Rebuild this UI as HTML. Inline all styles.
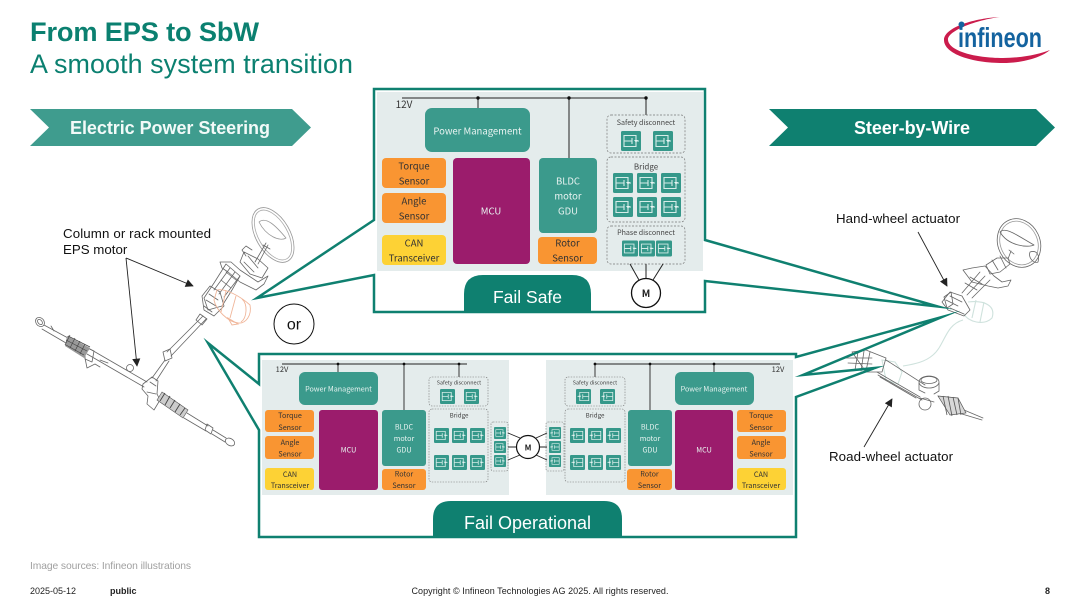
<!DOCTYPE html>
<html>
<head>
<meta charset="utf-8">
<style>
html,body{margin:0;padding:0;background:#fff;width:1080px;height:606px;overflow:hidden}
svg{display:block}
text{font-family:"Liberation Sans",sans-serif}
.n text,text.n{font-family:"Noto Sans CJK SC","Liberation Sans",sans-serif;text-anchor:middle}
.w{fill:#e8f3f1}.d{fill:#333}
.s10 text{font-size:9.500px}
.art{fill:none;stroke:#666;stroke-width:.8;stroke-linejoin:round;stroke-linecap:round}
.soft{filter:url(#b)}
</style>
</head>
<body>
<svg width="1080" height="606" viewBox="0 0 1080 606" xmlns="http://www.w3.org/2000/svg">
<defs>
<filter id="b" x="-2%" y="-2%" width="104%" height="104%"><feGaussianBlur stdDeviation="0.35"/></filter>
<symbol id="sw" viewBox="0 0 20 20">
<rect width="20" height="20" rx="1.500" fill="#36988a"/>
<path d="M3 4.500H15V15.500H3M3 10H11M11 7V13M15 10H18M3 4V16" fill="none" stroke="#d5ecE8" stroke-width="1.100"/>
<path d="M13 9h4l-2 2.500z" fill="#e6f4f2"/>
</symbol>
<marker id="ah" viewBox="0 0 10 10" refX="9" refY="5" markerWidth="10" markerHeight="9" orient="auto"><path d="M0 0L10 5L0 10z" fill="#222"/></marker>
</defs>

<!-- Title -->
<text x="30" y="41" font-size="27.200" font-weight="700" fill="#0b8070" textLength="229">From EPS to SbW</text>
<text x="30" y="73" font-size="26.900" fill="#0b8070" textLength="323">A smooth system transition</text>

<!-- Logo -->
<path d="M1000,17C976,18 944,27 944,40C944,54 972,63 1003,63C1024,63 1042,57 1050,50C1040,54 1022,58 1003,58C975,58 949,51 948,40C947,31 976,20 1000,17Z" fill="#cb1c4c"/>
<text x="958" y="47" font-size="28" font-weight="700" fill="#14639f" textLength="84" lengthAdjust="spacingAndGlyphs">infineon</text>
<circle cx="961.500" cy="24.500" r="3" fill="#14639f"/>

<!-- Banners -->
<polygon points="30,109 292,109 311,127.500 292,146 30,146 49,127.500" fill="#3f9c8e"/>
<text x="70" y="134" font-size="18" font-weight="700" fill="#f2faf8" textLength="200">Electric Power Steering</text>
<polygon points="769,109 1036,109 1055,127.500 1036,146 769,146 788,127.500" fill="#0f8070"/>
<text x="854" y="134" font-size="18" font-weight="700" fill="#fff" textLength="116">Steer-by-Wire</text>

<!-- Left EPS drawing -->
<g class="art soft">
<ellipse cx="273" cy="235" rx="17" ry="30" transform="rotate(-30 273 235)" stroke="#999"/>
<ellipse cx="273" cy="235" rx="14.500" ry="27.500" transform="rotate(-30 273 235)" stroke="#aaa"/>
<path d="M259,222C266,216 276,226 286,238C280,242 266,236 259,222Z" stroke="#999"/>
<path d="M266,243L255,262M268,245L258,264M263,245L270,249"/>
<path d="M244,252L258,259L268,268L262,278L250,274L240,262Z"/>
<path d="M248,256L258,268M244,262L254,272M252,250L246,246L242,250L246,256"/>
<path d="M220,262L231,262L240,270L258,282L268,276L264,284L256,290L240,282L228,272L222,268Z"/>
<path d="M204,298L214,283L226,264L240,276L232,290L222,306L208,310Z"/>
<path d="M214,290L230,268M219,294L235,272M224,297L240,276M226,272L236,280M221,280L231,288"/>
<path d="M202,296L210,286L220,292L224,306L214,316L204,310Z"/>
<path d="M206,300L216,306M209,294L218,300M204,306L212,312"/>
<path d="M203,316L167,352M206,319L171,356"/>
<path d="M200,314L207,319L202,325L196,320Z"/>
<path d="M163,352L170,349L172,358L165,361Z"/>
<path d="M165,360L152,378M169,361L156,381"/>
<!-- rack -->
<ellipse cx="40" cy="322" rx="4" ry="5" transform="rotate(-40 40 322)"/>
<ellipse cx="40" cy="322" rx="2" ry="3" transform="rotate(-40 40 322)"/>
<path d="M44,325L68,338M42,329L66,343M51,326L54,331"/>
<path d="M90,349L147,382M87,354L144,387"/>
<path d="M85,347L94,351L92,362L85,359Z"/>
<path d="M85,358L87,368L95,364L100,367M100,360L108,363"/>
<circle cx="130" cy="368" r="3.500"/>
<path d="M143,384L152,377L158,381L157,394L160,400L154,410L147,404L148,396L142,389Z"/>
<path d="M150,382L156,386M147,392L156,394"/>
<path d="M187,413L208,426M184,418L206,431"/>
<path d="M207,424L213,428L211,434L205,430Z"/>
<path d="M213,430L226,438M212,434L225,442"/>
<ellipse cx="230" cy="442" rx="5" ry="3.500" transform="rotate(30 230 442)"/>
</g>
<g class="soft">
<path d="M67,336L90,348L84,358L65,346Z" fill="#999"/>
<path d="M68,336L90,347M66,340L87,351M66,345L84,355M70,335L65,345M75,338L70,348M80,341L75,351M85,344L80,354" stroke="#444" stroke-width=".7" fill="none"/>
<path d="M162,392L188,410L183,418L157,400Z" fill="#ccc" stroke="#555" stroke-width=".6"/>
<path d="M165,393L160,401M170,396L165,405M175,400L170,408M180,404L175,412M185,408L180,415" stroke="#444" stroke-width=".9"/>
</g>
<g fill="none" stroke="#f0b69a" stroke-width=".9" class="soft">
<path d="M217,290C225,288 240,296 250,305C252,315 246,324 238,323C228,322 216,310 214,300Z"/>
<path d="M226,291L221,312M236,296L230,318M242,299C248,304 247,318 241,322"/>
<path d="M228,318L238,324L232,325Z"/>
</g>

<!-- Right SbW drawing -->
<g fill="none" stroke="#cfe2dd" stroke-width="1.100" class="soft">
<path d="M968,302C985,300 996,306 992,318C984,326 968,322 964,314"/>
<path d="M963,320C945,325 945,345 933,355C925,362 915,364 903,366"/>
<path d="M882,360L895,362L902,372L898,384L886,380Z"/>
<path d="M976,300L972,318M984,302L980,322"/>
</g>
<g class="art soft">
<ellipse cx="1019" cy="243" rx="21" ry="25" transform="rotate(-25 1019 243)"/>
<ellipse cx="1019" cy="243" rx="18.500" ry="22.500" transform="rotate(-25 1019 243)" stroke="#999"/>
<path d="M1000,232C1005,226 1018,236 1034,245C1028,248 1008,246 1000,232ZM1030,252C1036,250 1040,254 1038,262C1034,264 1028,258 1030,252Z"/>
<path d="M1011,251L1008,259M1009,250L1014,254"/>
<path d="M1008,258L1010,264L1000,272L990,274L986,265L997,258Z"/>
<path d="M992,260L998,270M1000,256L1006,268"/>
<path d="M963,270L972,268L985,266L994,276L1002,282L1011,280L1008,286L998,288L988,286L972,282Z"/>
<path d="M962,293L980,272M967,295L985,276M972,298L990,280M965,283L977,290M970,277L982,284"/>
<path d="M942,302L950,292L962,296L970,310L964,316L948,310Z"/>
<path d="M946,300L958,306M950,296L962,302M950,308L964,314"/>
<path d="M944,297L951,292L953,304L947,308Z"/>
<!-- rack -->
<path d="M843,358L872,358M848,363L872,364"/>
<path d="M852,352L866,350L886,358L882,372L866,372Z"/>
<path d="M858,352L855,370M864,351L861,371M870,352L866,371"/>
<path d="M886,360L925,385M877,372L920,397M880,377L916,398"/>
<path d="M878,375L922,400"/>
<ellipse cx="929" cy="382" rx="10" ry="6"/>
<ellipse cx="929" cy="380" rx="8" ry="3.500"/>
<path d="M919,383V390L925,393M939,383V391L934,394"/>
<circle cx="925" cy="404" r="6"/>
<path d="M920,398L934,402"/>
<path d="M964,410L983,418M962,414L982,420"/>
</g>
<g class="soft">
<path d="M938,396L958,398L966,413L950,415Z" fill="#d8d8d8" stroke="#555" stroke-width=".7"/>
<path d="M943,396L947,415M948,396L952,416M953,397L957,415M958,398L961,415" stroke="#555" stroke-width=".8"/>
</g>

<!-- Top panel -->
<rect x="377" y="92" width="326" height="179" fill="#e4ecec" class="soft"/>
<!-- Bottom panels -->
<rect x="262" y="360" width="247" height="135" fill="#e4ecec" class="soft"/>
<rect x="546" y="360" width="247" height="135" fill="#e4ecec" class="soft"/>

<!-- Callouts -->
<g fill="none" stroke="#0f8070" stroke-width="2.500" stroke-linejoin="miter" stroke-miterlimit="30">
<polygon points="374,89 705,89 705,240 938,306.500 705,281 705,312 374,312 374,275 257,298 374,220"/>
<polygon points="259,354 796,354 796,357 942,317 803,375 875,368 796,397 796,537 259,537 259,430 208,343 259,384"/>
</g>

<!-- Pills -->
<path d="M464,313V294Q464,275 483,275H572Q591,275 591,294V313Z" fill="#0f8070"/>
<text x="527.500" y="303" font-size="17.500" fill="#fff" text-anchor="middle">Fail Safe</text>
<path d="M433,538V519Q433,501 451,501H604Q622,501 622,519V538Z" fill="#0f8070"/>
<text x="527.500" y="529" font-size="18" fill="#fff" text-anchor="middle">Fail Operational</text>

<!-- Top diagram -->
<g class="n soft">
<path d="M402,98H647M478,98V108M569,98V158M646,98V115" stroke="#222" stroke-width="1" fill="none"/>
<circle cx="478" cy="98" r="1.700" fill="#111"/><circle cx="569" cy="98" r="1.700" fill="#111"/><circle cx="646" cy="98" r="1.700" fill="#111"/>
<text x="404" y="108" font-size="10" fill="#333">12V</text>
<rect x="425" y="108" width="105" height="44" rx="7" fill="#3b9a8c"/>
<rect x="382" y="158" width="64" height="30" rx="4" fill="#f99532"/>
<rect x="382" y="193" width="64" height="30" rx="4" fill="#f99532"/>
<rect x="382" y="235" width="64" height="30" rx="4" fill="#fdd236"/>
<rect x="453" y="158" width="77" height="106" rx="4" fill="#9b1f6c"/>
<rect x="539" y="158" width="58" height="75" rx="4" fill="#3b9a8c"/>
<rect x="538" y="237" width="59" height="27" rx="4" fill="#f99532"/>
<g fill="none" stroke="#777" stroke-width=".7" stroke-dasharray="2 1.500">
<rect x="607" y="115" width="78" height="38" rx="4"/>
<rect x="607" y="157" width="78" height="65" rx="4"/>
<rect x="607" y="226" width="78" height="38" rx="4"/>
</g>
<use href="#sw" x="621" y="131" width="20" height="20"/><use href="#sw" x="653" y="131" width="20" height="20"/>
<use href="#sw" x="613" y="173" width="20" height="20"/><use href="#sw" x="637" y="173" width="20" height="20"/><use href="#sw" x="661" y="173" width="20" height="20"/>
<use href="#sw" x="613" y="197" width="20" height="20"/><use href="#sw" x="637" y="197" width="20" height="20"/><use href="#sw" x="661" y="197" width="20" height="20"/>
<use href="#sw" x="622" y="240" width="16" height="17"/><use href="#sw" x="639" y="240" width="16" height="17"/><use href="#sw" x="656" y="240" width="16" height="17"/>
<g class="s10">
<text x="477.500" y="134.500" class="w">Power Management</text>
<text x="414" y="169.500" class="d">Torque</text><text x="414" y="184.500" class="d">Sensor</text>
<text x="414" y="204.500" class="d">Angle</text><text x="414" y="219.500" class="d">Sensor</text>
<text x="414" y="246.500" class="d">CAN</text><text x="414" y="261.500" class="d">Transceiver</text>
<text x="491" y="214.500" class="w">MCU</text>
<text x="568" y="184.500" class="w">BLDC</text><text x="568" y="199.500" class="w">motor</text><text x="568" y="214.500" class="w">GDU</text>
<text x="567.500" y="246.500" class="d">Rotor</text><text x="567.500" y="261.500" class="d">Sensor</text>
</g>
<text x="646" y="125" font-size="7.100" fill="#444">Safety disconnect</text>
<text x="646" y="169.500" font-size="8" fill="#444">Bridge</text>
<text x="646" y="235" font-size="7.100" fill="#444">Phase disconnect</text>
<path d="M630,264L639,280M646,264V278M663,264L653,280" stroke="#222" stroke-width="1"/>
</g>
<circle cx="646" cy="293" r="14.500" fill="#fff" stroke="#111" stroke-width="1.300"/>
<text x="646" y="297" class="n" font-size="10" font-weight="700" fill="#222">M</text>

<!-- Bottom-left diagram -->
<g class="n soft">
<path d="M282,364H467M338,364V372M404,364V410M459,364V377" stroke="#222" stroke-width=".9" fill="none"/>
<circle cx="338" cy="364" r="1.400" fill="#111"/><circle cx="404" cy="364" r="1.400" fill="#111"/><circle cx="459" cy="364" r="1.400" fill="#111"/>
<text x="282" y="372" font-size="7.500" fill="#333">12V</text>
<rect x="299" y="372" width="79" height="33" rx="6" fill="#3b9a8c"/>
<rect x="265" y="410" width="49" height="22" rx="3" fill="#f99532"/>
<rect x="265" y="436" width="49" height="23" rx="3" fill="#f99532"/>
<rect x="265" y="468" width="49" height="22" rx="3" fill="#fdd236"/>
<rect x="319" y="410" width="59" height="80" rx="3" fill="#9b1f6c"/>
<rect x="382" y="410" width="44" height="56" rx="3" fill="#3b9a8c"/>
<rect x="382" y="469" width="44" height="21" rx="3" fill="#f99532"/>
<g fill="none" stroke="#777" stroke-width=".6" stroke-dasharray="1.500 1.200">
<rect x="429" y="377" width="59" height="29" rx="3"/>
<rect x="429" y="409" width="59" height="73" rx="3"/>
<rect x="491" y="422" width="17" height="49" rx="2"/>
</g>
<use href="#sw" x="440" y="389" width="15" height="15"/><use href="#sw" x="464" y="389" width="15" height="15"/>
<use href="#sw" x="434" y="428" width="15" height="15"/><use href="#sw" x="452" y="428" width="15" height="15"/><use href="#sw" x="470" y="428" width="15" height="15"/>
<use href="#sw" x="434" y="455" width="15" height="15"/><use href="#sw" x="452" y="455" width="15" height="15"/><use href="#sw" x="470" y="455" width="15" height="15"/>
<use href="#sw" x="494" y="427" width="12" height="12"/><use href="#sw" x="494" y="441" width="12" height="12"/><use href="#sw" x="494" y="455" width="12" height="12"/>
<g font-size="7.200">
<text x="338.500" y="391.500" class="w">Power Management</text>
<text x="290" y="418" class="d">Torque</text><text x="290" y="430" class="d">Sensor</text>
<text x="290" y="445" class="d">Angle</text><text x="290" y="456.500" class="d">Sensor</text>
<text x="290" y="477" class="d">CAN</text><text x="290" y="488" class="d">Transceiver</text>
<text x="348.500" y="452.500" class="w">MCU</text>
<text x="404" y="429.500" class="w">BLDC</text><text x="404" y="441" class="w">motor</text><text x="404" y="452.500" class="w">GDU</text>
<text x="404" y="476.500" class="d">Rotor</text><text x="404" y="488" class="d">Sensor</text>
</g>
<text x="459" y="384.500" font-size="5.400" fill="#444">Safety disconnect</text>
<text x="459" y="417.500" font-size="6.200" fill="#444">Bridge</text>
<path d="M508,433L520,438M508,447H517M508,460L520,455" stroke="#222" stroke-width=".9"/>

<!-- Bottom-right diagram -->
<path d="M595,364H780M714,364V372M650,364V410M595,364V377" stroke="#222" stroke-width=".9" fill="none"/>
<circle cx="714" cy="364" r="1.400" fill="#111"/><circle cx="650" cy="364" r="1.400" fill="#111"/><circle cx="595" cy="364" r="1.400" fill="#111"/>
<text x="778" y="372" font-size="7.500" fill="#333">12V</text>
<rect x="675" y="372" width="79" height="33" rx="6" fill="#3b9a8c"/>
<rect x="737" y="410" width="49" height="22" rx="3" fill="#f99532"/>
<rect x="737" y="436" width="49" height="23" rx="3" fill="#f99532"/>
<rect x="737" y="468" width="49" height="22" rx="3" fill="#fdd236"/>
<rect x="675" y="410" width="58" height="80" rx="3" fill="#9b1f6c"/>
<rect x="628" y="410" width="44" height="56" rx="3" fill="#3b9a8c"/>
<rect x="627" y="469" width="45" height="21" rx="3" fill="#f99532"/>
<g fill="none" stroke="#777" stroke-width=".6" stroke-dasharray="1.500 1.200">
<rect x="565" y="377" width="60" height="29" rx="3"/>
<rect x="565" y="409" width="60" height="73" rx="3"/>
<rect x="546" y="422" width="18" height="49" rx="2"/>
</g>
<g transform="translate(1152 0) scale(-1 1)">
<use href="#sw" x="561" y="389" width="15" height="15"/><use href="#sw" x="537" y="389" width="15" height="15"/>
<use href="#sw" x="567" y="428" width="15" height="15"/><use href="#sw" x="549" y="428" width="15" height="15"/><use href="#sw" x="531" y="428" width="15" height="15"/>
<use href="#sw" x="567" y="455" width="15" height="15"/><use href="#sw" x="549" y="455" width="15" height="15"/><use href="#sw" x="531" y="455" width="15" height="15"/>
<use href="#sw" x="591" y="427" width="12" height="12"/><use href="#sw" x="591" y="441" width="12" height="12"/><use href="#sw" x="591" y="455" width="12" height="12"/>
</g>
<g font-size="7.200">
<text x="714" y="391.500" class="w">Power Management</text>
<text x="761" y="418" class="d">Torque</text><text x="761" y="430" class="d">Sensor</text>
<text x="761" y="445" class="d">Angle</text><text x="761" y="456.500" class="d">Sensor</text>
<text x="761" y="477" class="d">CAN</text><text x="761" y="488" class="d">Transceiver</text>
<text x="704" y="452.500" class="w">MCU</text>
<text x="650" y="429.500" class="w">BLDC</text><text x="650" y="441" class="w">motor</text><text x="650" y="452.500" class="w">GDU</text>
<text x="649.500" y="476.500" class="d">Rotor</text><text x="649.500" y="488" class="d">Sensor</text>
</g>
<text x="595" y="384.500" font-size="5.400" fill="#444">Safety disconnect</text>
<text x="595" y="417.500" font-size="6.200" fill="#444">Bridge</text>
<path d="M547,433L536,438M547,447H539M547,460L536,455" stroke="#222" stroke-width=".9"/>
</g>
<circle cx="528" cy="447" r="11.500" fill="#fff" stroke="#111" stroke-width="1.200"/>
<text x="528" y="450.500" class="n" font-size="8" font-weight="700" fill="#222">M</text>

<!-- or -->
<circle cx="294" cy="324" r="20" fill="#fff" stroke="#111" stroke-width="1"/>
<text x="294" y="329.500" font-size="16" fill="#111" text-anchor="middle">or</text>

<!-- Annotations -->
<text x="63" y="238" font-size="13.300" fill="#111" textLength="148">Column or rack mounted</text>
<text x="63" y="254" font-size="13.300" fill="#111">EPS motor</text>
<g stroke="#222" stroke-width=".9" fill="none">
<path d="M126,258L193,286" marker-end="url(#ah)"/>
<path d="M126,258L137,366" marker-end="url(#ah)"/>
<path d="M918,232L947,286" marker-end="url(#ah)"/>
<path d="M864,447L892,399" marker-end="url(#ah)"/>
</g>
<text x="836" y="223" font-size="13.300" fill="#111" textLength="124">Hand-wheel actuator</text>
<text x="829" y="461" font-size="13.300" fill="#111" textLength="124">Road-wheel actuator</text>

<!-- Footer -->
<text x="30" y="569" font-size="10.300" fill="#a0a0a0" textLength="161">Image sources: Infineon illustrations</text>
<text x="30" y="594" font-size="9" fill="#222">2025-05-12</text>
<text x="110" y="594" font-size="9" font-weight="700" fill="#222">public</text>
<text x="411.500" y="594" font-size="9" fill="#222" textLength="257">Copyright © Infineon Technologies AG 2025. All rights reserved.</text>
<text x="1045" y="594" font-size="9" font-weight="700" fill="#222">8</text>
</svg>
</body>
</html>
